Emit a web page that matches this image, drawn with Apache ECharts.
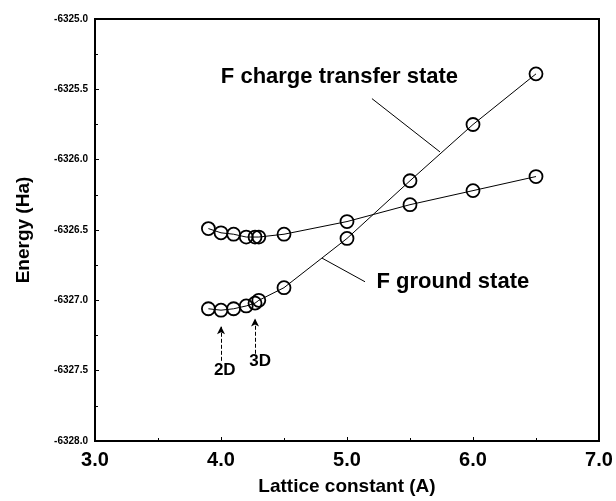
<!DOCTYPE html>
<html>
<head>
<meta charset="utf-8">
<script src="https://cdn.jsdelivr.net/npm/echarts@6/dist/echarts.min.js"></script>
<style>
html,body{margin:0;padding:0;background:#fff;}
#c{width:616px;height:501px;}
</style>
</head>
<body>
<div id="c"></div>
<script>
// Data
const latticeX = [3.9, 4.0, 4.1, 4.2, 4.27, 4.3, 4.5, 5.0, 5.5, 6.0, 6.5];
const lowerCurveY = [-6327.06, -6327.07, -6327.06, -6327.04, -6327.02, -6327.00, -6326.91, -6326.56, -6326.15, -6325.75, -6325.39];
const upperCurveY = [-6326.49, -6326.52, -6326.53, -6326.55, -6326.55, -6326.55, -6326.53, -6326.44, -6326.32, -6326.22, -6326.12];
const yTickLabels = ['-6328.0','-6327.5','-6327.0','-6326.5','-6326.0','-6325.5','-6325.0'];
const xTickLabels = ['3.0','4.0','5.0','6.0','7.0'];
// annotations (data coordinates)
const ctLabel = {text: 'F charge transfer state', x: 4.94, y: -6325.41};
const ctLeader = [[5.198, -6325.566], [5.738, -6325.945]];
const gsLabel = {text: 'F ground state', x: 5.84, y: -6326.868};
const gsLeader = [[4.802, -6326.70], [5.143, -6326.868]];
const arrow2D = {text: '2D', x: 4.0, yFrom: -6327.43, yTo: -6327.185, lx: 4.03, ly: -6327.50};
const arrow3D = {text: '3D', x: 4.27, yFrom: -6327.38, yTo: -6327.13, lx: 4.31, ly: -6327.435};

const FONT = '"Liberation Sans", Arial, Helvetica, sans-serif';
const pts = (ys) => latticeX.map((x, i) => [x, ys[i]]);

const curveStyle = {
  type: 'line',
  symbol: 'circle',
  symbolSize: 13,
  itemStyle: {color: 'rgba(255,255,255,0)', borderColor: '#000', borderWidth: 1.8},
  lineStyle: {color: '#000', width: 1},
  z: 3
};

const chart = echarts.init(document.getElementById('c'), null, {renderer: 'canvas'});
chart.setOption({
  animation: false,
  backgroundColor: '#fff',
  grid: {left: 95, top: 19, right: 17, bottom: 58, show: true, borderColor: '#000', borderWidth: 2, backgroundColor: 'transparent'},
  xAxis: {
    type: 'value', min: 3, max: 7, interval: 1,
    axisLine: {show: true, lineStyle: {color: '#000', width: 2}},
    axisTick: {show: true, inside: true, length: 4, lineStyle: {color: '#000'}},
    minorTick: {show: true, splitNumber: 2, length: 3, lineStyle: {color: '#000'}},
    splitLine: {show: false},
    axisLabel: {
      color: '#000', fontSize: 20, fontWeight: 'bold', fontFamily: FONT, margin: 9,
      formatter: (v) => xTickLabels[Math.round(v - 3)] || ''
    },
    name: 'Lattice constant (A)', nameLocation: 'middle', nameGap: 36,
    nameTextStyle: {color: '#000', fontSize: 19, fontWeight: 'bold', fontFamily: FONT}
  },
  yAxis: {
    type: 'value', min: -6328, max: -6325, interval: 0.5,
    axisLine: {show: true, lineStyle: {color: '#000', width: 2}},
    axisTick: {show: true, inside: true, length: 4, lineStyle: {color: '#000'}},
    minorTick: {show: true, splitNumber: 2, length: 3, lineStyle: {color: '#000'}},
    splitLine: {show: false},
    axisLabel: {
      color: '#000', fontSize: 10, fontWeight: 'bold', fontFamily: FONT, margin: 7,
      formatter: (v) => yTickLabels[Math.round((v + 6328) * 2)] || ''
    },
    name: 'Energy (Ha)', nameLocation: 'middle', nameGap: 62, nameRotate: 90,
    nameTextStyle: {color: '#000', fontSize: 19, fontWeight: 'bold', fontFamily: FONT}
  },
  series: [
    Object.assign({name: 'lower', data: pts(lowerCurveY)}, curveStyle),
    Object.assign({name: 'upper', data: pts(upperCurveY)}, curveStyle),
    {type: 'line', data: ctLeader, symbol: 'none', lineStyle: {color: '#000', width: 1}, silent: true},
    {type: 'line', data: gsLeader, symbol: 'none', lineStyle: {color: '#000', width: 1}, silent: true},
    {
      type: 'line', data: [], silent: true,
      markLine: {
        silent: true, symbol: ['none', 'arrow'], symbolSize: [6, 8],
        label: {show: false},
        lineStyle: {color: '#000', width: 1, type: [4, 2]},
        data: [
          [{coord: [arrow2D.x, arrow2D.yFrom]}, {coord: [arrow2D.x, arrow2D.yTo]}],
          [{coord: [arrow3D.x, arrow3D.yFrom]}, {coord: [arrow3D.x, arrow3D.yTo]}]
        ]
      }
    },
    {
      type: 'scatter', symbolSize: 0, silent: true,
      itemStyle: {opacity: 1},
      label: {show: true, position: 'inside', color: '#000', fontWeight: 'bold', fontFamily: FONT, fontSize: 22,
        formatter: (p) => p.data[2]},
      data: [[ctLabel.x, ctLabel.y, ctLabel.text], [gsLabel.x, gsLabel.y, gsLabel.text]]
    },
    {
      type: 'scatter', symbolSize: 0, silent: true,
      itemStyle: {opacity: 1},
      label: {show: true, position: 'inside', color: '#000', fontWeight: 'bold', fontFamily: FONT, fontSize: 17,
        formatter: (p) => p.data[2]},
      data: [[arrow2D.lx, arrow2D.ly, arrow2D.text], [arrow3D.lx, arrow3D.ly, arrow3D.text]]
    }
  ]
});
</script>
</body>
</html>
